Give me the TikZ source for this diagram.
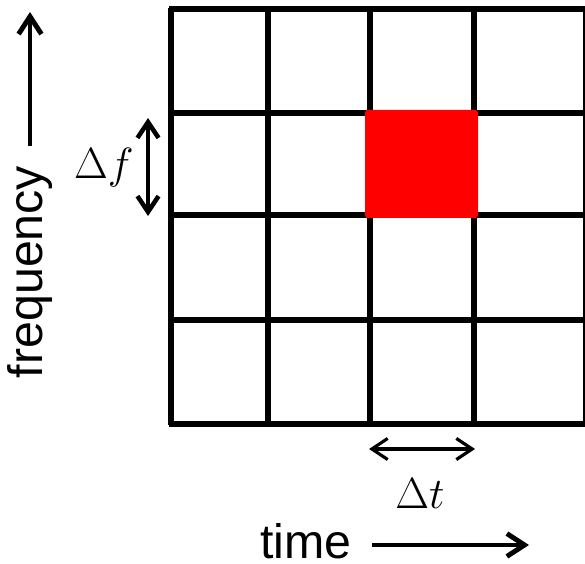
\documentclass[tikz,border=0pt]{standalone}
\usepackage{fontspec}
\setmainfont{Liberation Sans}
\usetikzlibrary{arrows.meta}

\begin{document}
\begin{tikzpicture}[
        x=0.02cm, y=-0.02cm,
        gridline/.style={draw, line width=3.1pt},
        cell/.style={fill=red, rounded corners=1.5pt},
        axis/.style={draw, -{Straight Barb[length=10pt, width=13pt]}, line width=2.8pt},
        span/.style={draw, {Straight Barb[length=9pt, width=12pt]}-{Straight Barb[length=9pt, width=12pt]}},
        word/.style={font=\fontsize{27.5}{32}\selectfont, inner sep=0pt},
        delta/.style={font=\fontsize{24}{28}\selectfont, inner sep=0pt}
      ]
      \useasboundingbox (0,0) rectangle (585,564);

      % grid
      \foreach \gx in {171, 268, 370, 474, 586} {
        \draw[gridline] (\gx,8) -- (\gx,425);
      }
      \foreach \gy in {9, 113, 215, 320, 424} {
        \draw[gridline] (169,\gy) -- (588,\gy);
      }

      % selected time-frequency cell
      \fill[cell] (365,110) rectangle (478,218);

      % resolution marks
      \coordinate (df_top) at (148,118);
      \coordinate (df_bot) at (148,216);
      \path [span, line width=2.6pt] (df_top) -- (df_bot);
      \node [delta] (df_lbl) at (104,168) {$\Delta f$};

      \coordinate (dt_left) at (369,449);
      \coordinate (dt_right) at (475,449);
      \path [span, line width=1.8pt] (dt_left) -- (dt_right);
      \node [delta] (dt_lbl) at (420,494) {$\Delta t$};

      % axes
      \node [word, rotate=90] (freq) at (30,272) {frequency};
      \coordinate (f_end) at (30,12);
      \path [axis] (30,146) -- (f_end);

      \node [word] (time) at (306,541) {time};
      \coordinate (t_end) at (529,545);
      \path [axis] (372,545) -- (t_end);
    \end{tikzpicture}
\end{document}
